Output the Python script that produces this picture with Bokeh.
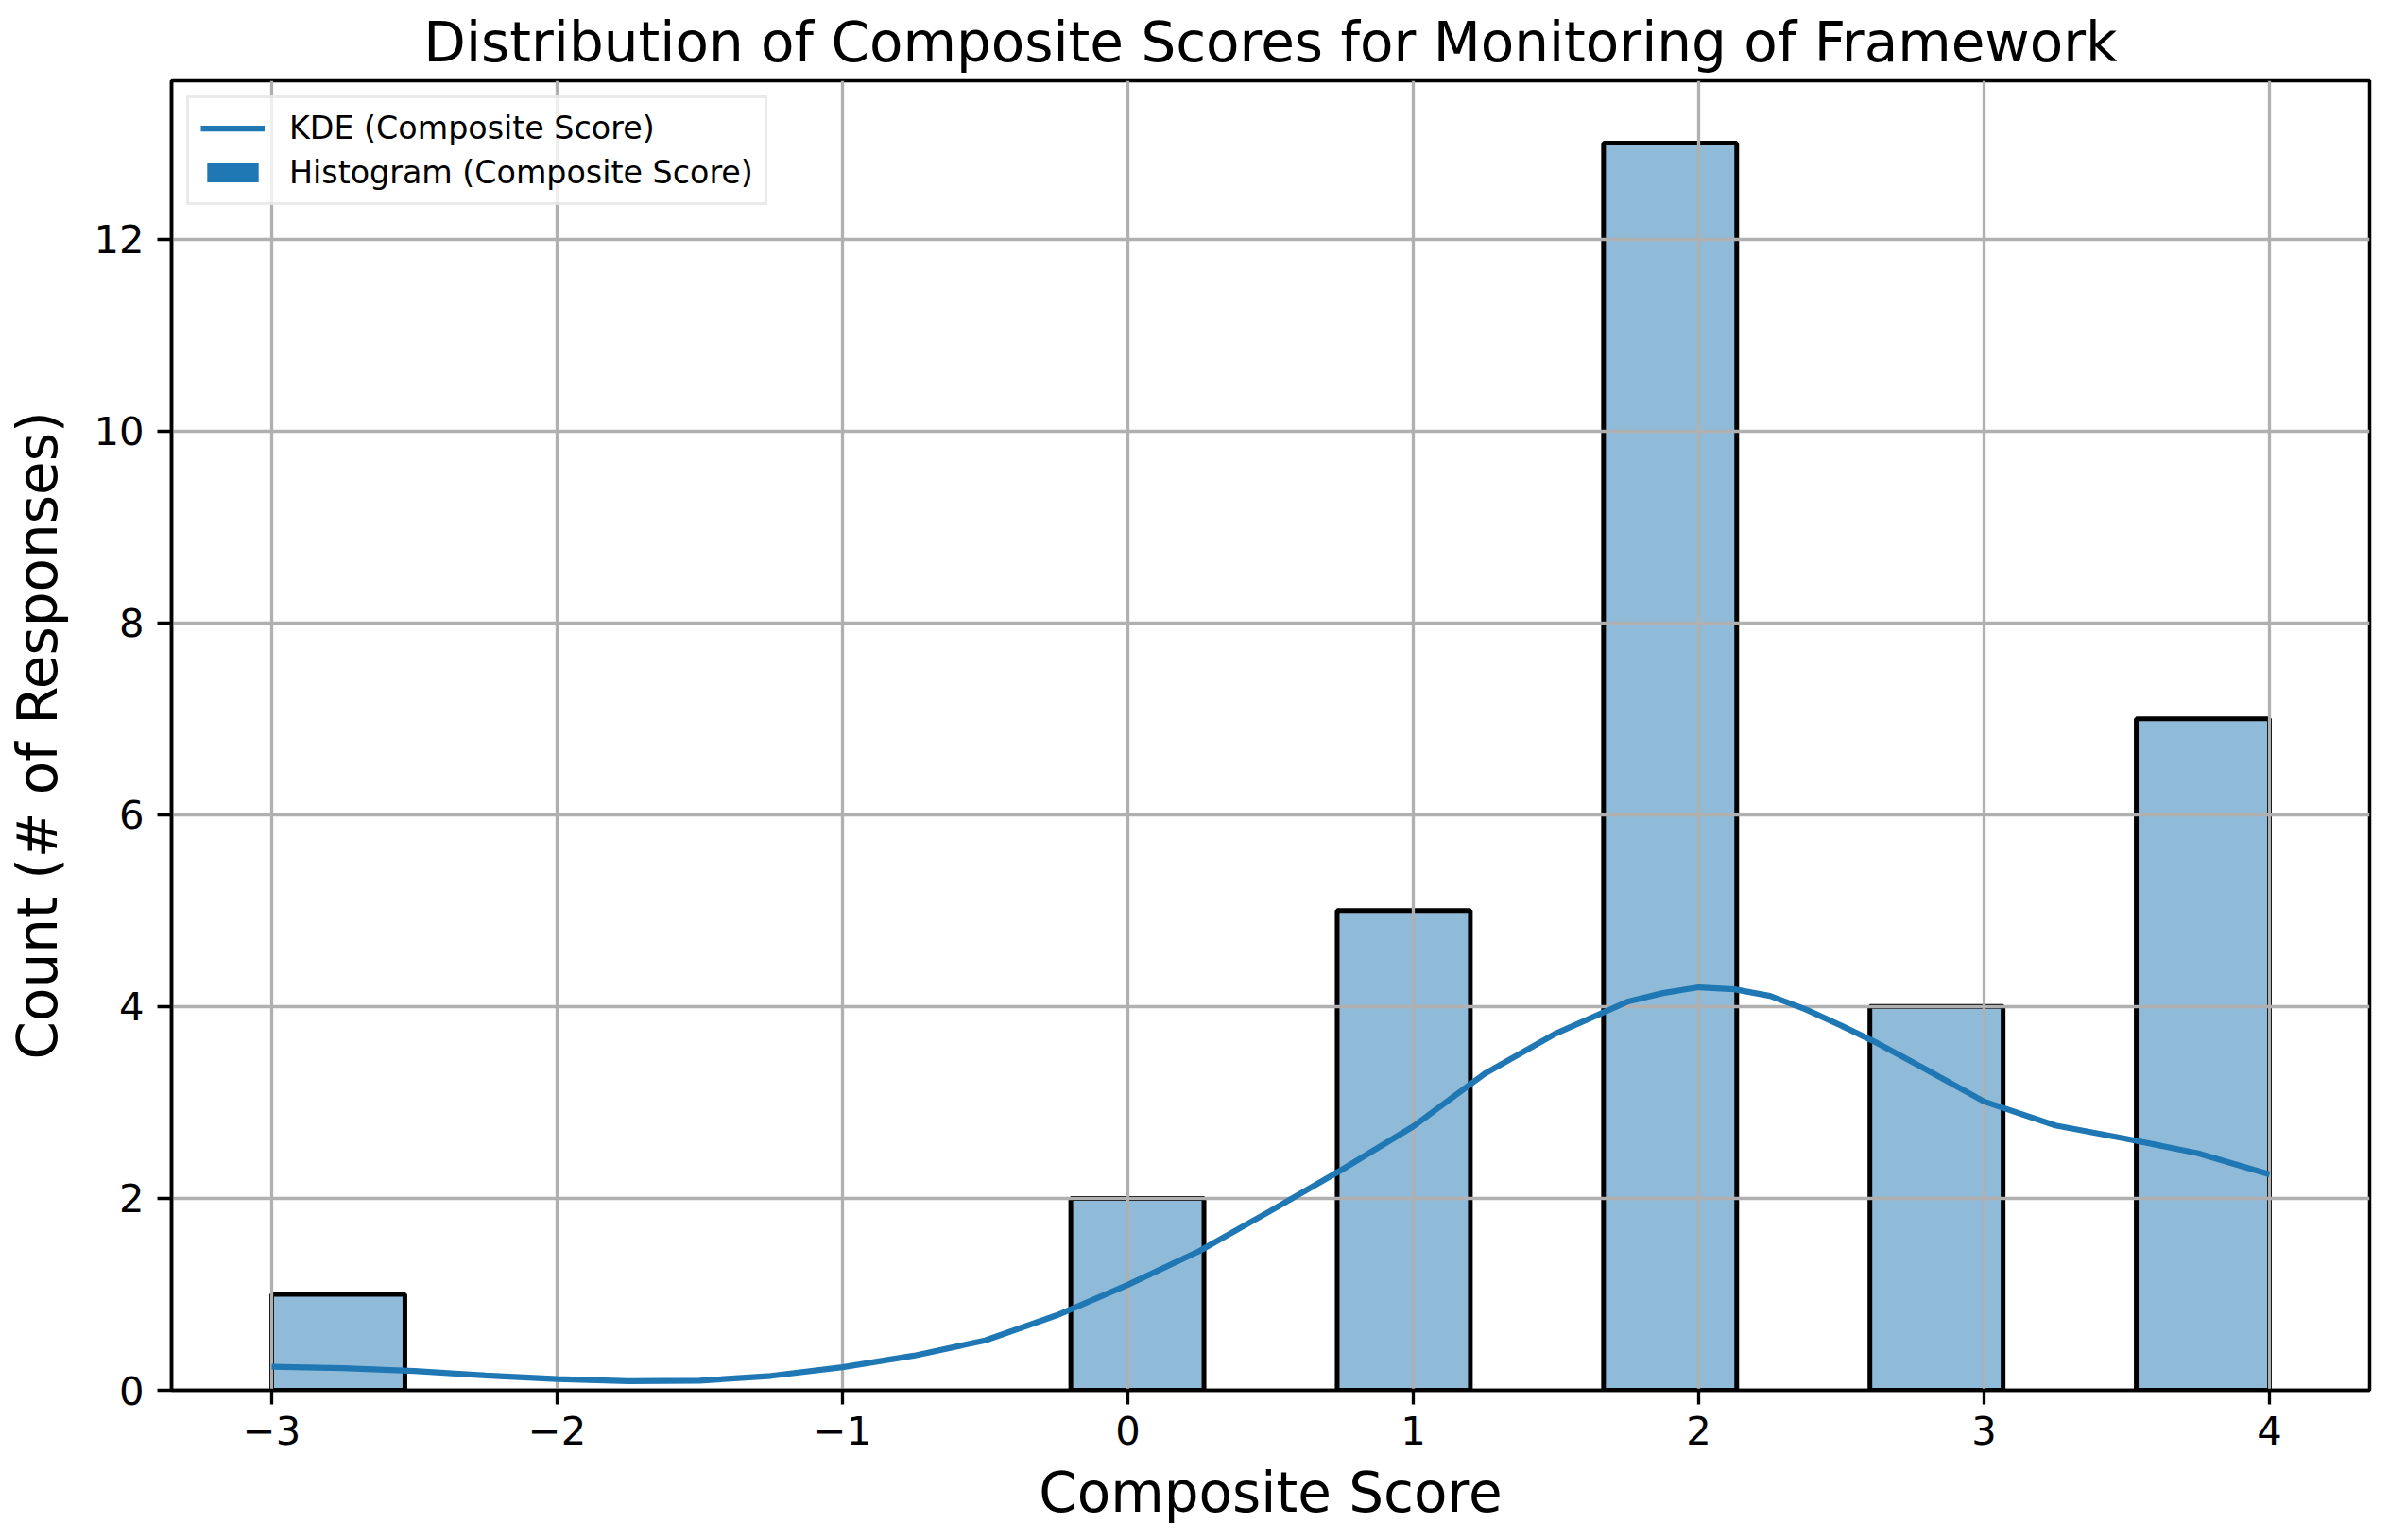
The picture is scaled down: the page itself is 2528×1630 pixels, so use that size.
import numpy as np
from bokeh.plotting import figure
from bokeh.models import ColumnDataSource, Legend, LegendItem, FixedTicker, Range1d
from bokeh.embed import file_html
from bokeh.resources import INLINE

# Histogram data (15 bins from -3 to 4; only non-empty bins listed)
bin_left = [-3.0, -0.2, 0.7333, 1.6667, 2.6, 3.5333]
bin_right = [-2.5333, 0.2667, 1.2, 2.1333, 3.0667, 4.0]
counts = [1, 2, 5, 13, 4, 7]

# KDE curve values (scaled to counts)
kde_x = [-3.0, -2.75, -2.5, -2.25, -2.0, -1.75, -1.5, -1.25, -1.0, -0.75, -0.5, -0.25,
         0.0, 0.25, 0.5, 0.75, 1.0, 1.25, 1.5, 1.75, 1.875, 2.0, 2.125, 2.25, 2.375,
         2.5, 2.625, 2.75, 3.0, 3.25, 3.5, 3.75, 4.0]
kde_y = [0.246, 0.23, 0.2, 0.155, 0.118, 0.095, 0.1, 0.15, 0.24, 0.36, 0.52, 0.78,
         1.1, 1.45, 1.87, 2.3, 2.75, 3.3, 3.72, 4.05, 4.14, 4.2, 4.18, 4.11, 3.97,
         3.8, 3.62, 3.42, 3.01, 2.76, 2.62, 2.47, 2.25]

x_ticks = [-3, -2, -1, 0, 1, 2, 3, 4]
y_ticks = [0, 2, 4, 6, 8, 10, 12]

FONT = "DejaVu Sans"

p = figure(width=2526, height=1628, output_backend="svg", toolbar_location=None,
           x_range=Range1d(-3.351, 4.351), y_range=Range1d(0, 13.65),
           min_border_left=181, min_border_right=19, min_border_top=85, min_border_bottom=157)

p.title.text = "Distribution of Composite Scores for Monitoring of Framework"
p.title.text_font = FONT
p.title.text_font_size = "58px"
p.title.text_font_style = "normal"
p.title.align = "center"
p.title.text_color = "black"
p.title.standoff = 14

p.outline_line_color = "black"
p.outline_line_width = 3.5
p.background_fill_color = "white"
p.border_fill_color = "white"

src = ColumnDataSource(dict(left=bin_left, right=bin_right, top=counts, bottom=[0] * len(counts)))
bars = p.quad(left="left", right="right", top="top", bottom="bottom", source=src,
              fill_color="#1f77b4", fill_alpha=0.5, line_color="black", line_width=5,
              level="underlay")

kde = p.line(kde_x, kde_y, line_color="#1f77b4", line_width=6.25, level="annotation")

# legend-only patch (same data, hidden from plot, solid color in legend)
legend_patch = p.quad(left="left", right="right", top="top", bottom="bottom", source=src,
                      fill_color="#1f77b4", line_color=None, visible=False)

for ax in (p.xaxis[0], p.yaxis[0]):
    ax.axis_line_color = "black"
    ax.axis_line_width = 3.5
    ax.major_tick_line_color = "black"
    ax.major_tick_line_width = 3.3
    ax.major_tick_in = 0
    ax.major_tick_out = 15
    ax.minor_tick_line_color = None
    ax.major_label_text_font = FONT
    ax.major_label_text_font_size = "41.7px"
    ax.major_label_text_color = "black"
    ax.axis_label_text_font = FONT
    ax.axis_label_text_font_size = "58px"
    ax.axis_label_text_font_style = "normal"
    ax.axis_label_text_color = "black"

p.xaxis.ticker = FixedTicker(ticks=x_ticks)
p.yaxis.ticker = FixedTicker(ticks=y_ticks)
p.xaxis.major_label_overrides = {t: (str(t).replace("-", "\u2212")) for t in x_ticks}
p.xaxis.axis_label = "Composite Score"
p.yaxis.axis_label = "Count (# of Responses)"
p.xaxis.major_label_standoff = 12
p.yaxis.major_label_standoff = 14
p.xaxis.axis_label_standoff = 14
p.yaxis.axis_label_standoff = 22

p.grid.grid_line_color = "#b0b0b0"
p.grid.grid_line_width = 3.3
p.grid.level = "glyph"

legend = Legend(items=[LegendItem(label="KDE (Composite Score)", renderers=[kde]),
                       LegendItem(label="Histogram (Composite Score)", renderers=[legend_patch])],
                location="top_left")
legend.label_text_font = FONT
legend.label_text_font_size = "33.3px"
legend.label_text_color = "black"
legend.glyph_width = 68
legend.glyph_height = 25
legend.label_standoff = 26
legend.spacing = 8
legend.padding = 12
legend.margin = 16
legend.border_line_color = "#d6d6d6"
legend.border_line_width = 3.3
legend.background_fill_alpha = 0.8
p.add_layout(legend)

open("out.html", "w").write(file_html(p, INLINE))
